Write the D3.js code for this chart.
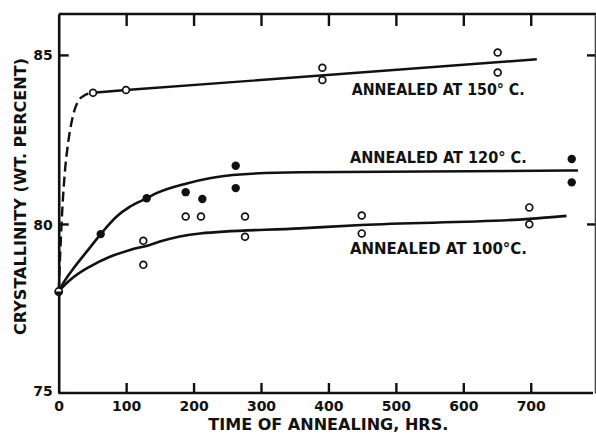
<!DOCTYPE html>
<html>
<head>
<meta charset="utf-8">
<script src="https://cdn.jsdelivr.net/npm/d3@7"></script>
<style>
  html, body { margin: 0; padding: 0; background: #fff; }
  svg { display: block; }
  text { font-family: "DejaVu Sans", sans-serif; font-weight: bold; fill: #111; }
</style>
</head>
<body>
<svg id="chart" width="596" height="434"></svg>
<script>
// Crystallinity vs. annealing time, three annealing temperatures.

// tick values
const xTicks = [0, 100, 200, 300, 400, 500, 600, 700];
const yTicks = [75, 80, 85];

// measured points
const open150X = [50.9, 99.8, 391, 391, 651, 651];
const open150Y = [83.88, 83.96, 84.62, 84.26, 85.07, 84.48];
const filled120X = [62.3, 130.5, 188.3, 213, 262.5, 262.5, 760.8, 760.8];
const filled120Y = [79.70, 80.76, 80.94, 80.74, 81.72, 81.06, 81.92, 81.23];
const open100X = [125.5, 125.5, 188.3, 211, 276.3, 276.3, 449.4, 449.4, 697.9, 697.9];
const open100Y = [79.5, 78.79, 80.22, 80.22, 80.22, 79.62, 80.25, 79.72, 80.49, 79.99];
const startPoint = [0, 78];

// hand-drawn fit curves
const curve150Dashed = [[0, 78], [2, 79], [5, 80.3], [9, 81.5], [14, 82.4], [20, 83.1], [28, 83.6], [38, 83.8], [50.9, 83.88]];
const curve150Solid = [[50.9, 83.88], [99.8, 83.96], [709, 84.87]];
const curve120 = [[0, 78], [6.8, 78.25], [24, 78.74], [41.5, 79.18], [62.3, 79.7], [86, 80.22], [105.7, 80.51],
  [130.5, 80.76], [145, 80.91], [190, 81.2], [258, 81.45], [358, 81.53], [770, 81.58]];
const curve100 = [[0, 78], [4.4, 78.1], [16.8, 78.34], [46.4, 78.74], [76, 79.03], [105.7, 79.23], [135, 79.38],
  [150, 79.48], [209.5, 79.72], [358, 79.87], [449, 79.97], [698, 80.15], [753, 80.24]];

// annotations
const seriesLabels = ["ANNEALED AT 150° C.", "ANNEALED AT 120° C.", "ANNEALED AT 100°C."];
const xTitle = "TIME OF ANNEALING, HRS.";
const yTitle = "CRYSTALLINITY (WT. PERCENT)";

const svg = d3.select('#chart');
const ink = '#111';

const x = d3.scaleLinear().domain([0, 795.3]).range([58.7, 595]);
const y = d3.scaleLinear().domain([75, 86.21]).range([393, 14]);

const styleAxis = g => {
  g.select('.domain').attr('stroke', ink).attr('stroke-width', 2.6);
  g.selectAll('.tick line').attr('stroke', ink).attr('stroke-width', 2.4);
  g.selectAll('.tick text').attr('font-size', 14).attr('fill', ink)
    .attr('font-family', '"DejaVu Sans", sans-serif').attr('font-weight', 'bold');
};

// bottom axis, ticks pointing in
const gx = svg.append('g')
  .attr('transform', `translate(0,${y(75)})`)
  .call(d3.axisBottom(x).tickValues(xTicks).tickSizeInner(-10).tickSizeOuter(0).tickPadding(0))
  .call(styleAxis);
gx.selectAll('.tick text').attr('dy', null).attr('y', 18);
gx.selectAll('.tick').filter(d => d === 0).select('line').remove();
gx.select('.domain').attr('d', `M${x(0)},0H${593}`);

// top frame with inward ticks
const gt = svg.append('g')
  .attr('transform', `translate(0,${y(86.21)})`)
  .call(d3.axisTop(x).tickValues(xTicks.slice(1)).tickSizeInner(-12).tickSizeOuter(0).tickFormat(''))
  .call(styleAxis);
gt.select('.domain').attr('d', `M${x(0)},0H596`);

// left axis
const gy = svg.append('g')
  .attr('transform', `translate(${x(0)},0)`)
  .call(d3.axisLeft(y).tickValues(yTicks).tickSizeInner(-10).tickSizeOuter(0).tickPadding(0))
  .call(styleAxis);
gy.selectAll('.tick text').attr('x', -6).attr('dy', '0.36em');
gy.selectAll('.tick').filter(d => d === 75).select('line').remove();
gy.selectAll('.tick').filter(d => d === 75).select('text').attr('dy', '0.2em');

// right frame
const gr = svg.append('g')
  .attr('transform', `translate(${x(795.3)},0)`)
  .call(d3.axisRight(y).tickValues(yTicks.slice(1)).tickSizeInner(-8).tickSizeOuter(0).tickFormat(''))
  .call(styleAxis);
gr.select('.domain').attr('stroke-width', 1.6).attr('stroke', '#444');

// curves
const smooth = d3.line().x(d => x(d[0])).y(d => y(d[1])).curve(d3.curveMonotoneX);
const straight = d3.line().x(d => x(d[0])).y(d => y(d[1]));

svg.append('path').attr('d', smooth(curve150Dashed))
  .attr('fill', 'none').attr('stroke', ink).attr('stroke-width', 2.4)
  .attr('stroke-dasharray', '10,5');
svg.append('path').attr('d', straight(curve150Solid))
  .attr('fill', 'none').attr('stroke', ink).attr('stroke-width', 2.4);
svg.append('path').attr('d', smooth(curve120))
  .attr('fill', 'none').attr('stroke', ink).attr('stroke-width', 2.6);
svg.append('path').attr('d', smooth(curve100))
  .attr('fill', 'none').attr('stroke', ink).attr('stroke-width', 2.6);

// points
const openPts = d3.zip(open150X, open150Y).concat(d3.zip(open100X, open100Y));
svg.append('g').selectAll('circle.open')
  .data(openPts).join('circle')
  .attr('cx', d => x(d[0])).attr('cy', d => y(d[1])).attr('r', 3.4)
  .attr('fill', '#fff').attr('stroke', ink).attr('stroke-width', 1.7);

svg.append('g').selectAll('circle.filled')
  .data(d3.zip(filled120X, filled120Y)).join('circle')
  .attr('cx', d => x(d[0])).attr('cy', d => y(d[1])).attr('r', 4.2)
  .attr('fill', ink);

// shared starting point, half filled
const sp = svg.append('g').attr('transform', `translate(${x(startPoint[0])},${y(startPoint[1])})`);
sp.append('circle').attr('r', 3.6).attr('fill', '#fff').attr('stroke', ink).attr('stroke-width', 1.7);
sp.append('path')
  .attr('d', d3.arc().innerRadius(0).outerRadius(3.6).startAngle(Math.PI / 2).endAngle(Math.PI * 1.5)())
  .attr('fill', ink);

// series labels
const labelPos = [[351.7, 95, 173], [350, 163, 176.7], [350, 254, 177]];
svg.append('g').selectAll('text')
  .data(seriesLabels).join('text')
  .attr('x', (d, i) => labelPos[i][0])
  .attr('y', (d, i) => labelPos[i][1])
  .attr('textLength', (d, i) => labelPos[i][2])
  .attr('lengthAdjust', 'spacingAndGlyphs')
  .attr('font-size', 16)
  .text(d => d);

// axis titles
svg.append('text')
  .attr('x', 208.3).attr('y', 430)
  .attr('textLength', 240).attr('lengthAdjust', 'spacingAndGlyphs')
  .attr('font-size', 16)
  .text(xTitle);

svg.append('text')
  .attr('transform', 'translate(25.5,335) rotate(-90)')
  .attr('textLength', 277).attr('lengthAdjust', 'spacingAndGlyphs')
  .attr('font-size', 16)
  .text(yTitle);
</script>
</body>
</html>
